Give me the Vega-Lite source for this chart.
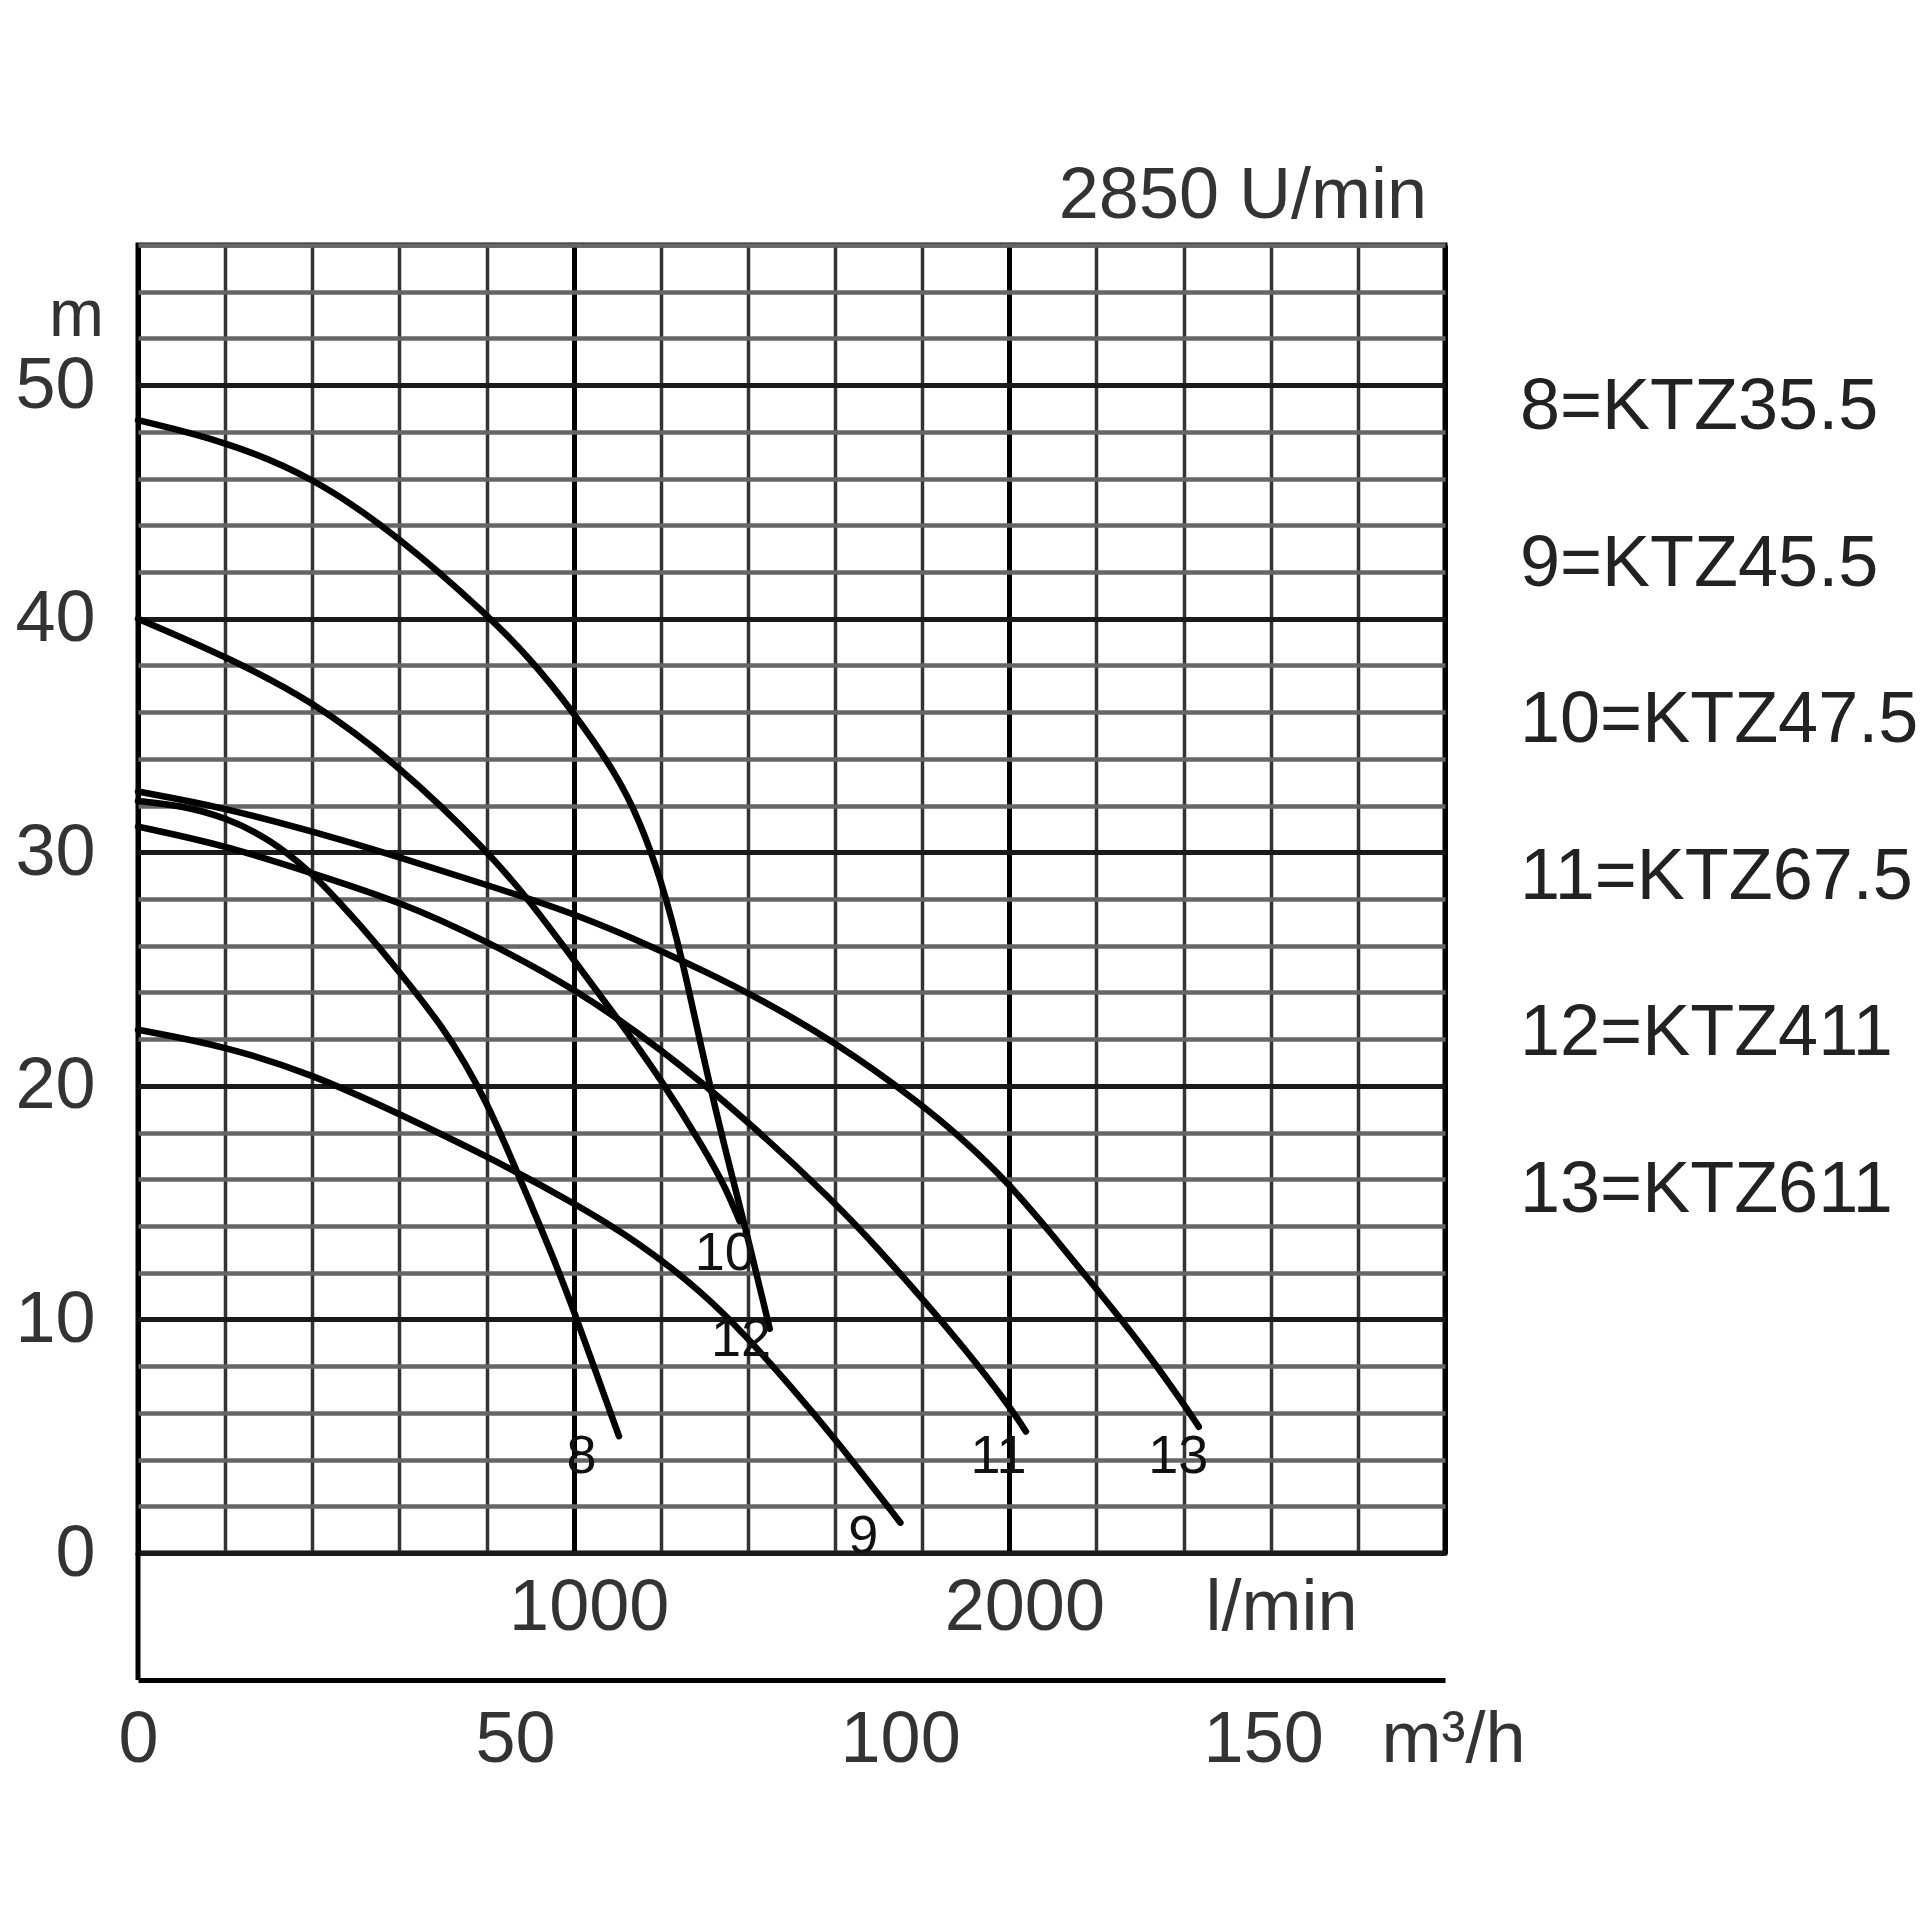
{
  "$schema": "https://vega.github.io/schema/vega-lite/v6.json",
  "width": 1307,
  "height": 1308,
  "autosize": "none",
  "padding": {"left": 138, "top": 245, "right": 475, "bottom": 367},
  "background": "white",
  "title": {
    "text": "2850 U/min",
    "anchor": "end",
    "frame": "group",
    "fontSize": 72,
    "fontWeight": "normal",
    "font": "Liberation Sans",
    "color": "#333333",
    "baseline": "alphabetic",
    "offset": -44,
    "dx": -18,
    "dy": 37
  },
  "config": {
    "font": "Liberation Sans",
    "view": {"stroke": "black", "strokeWidth": 5}
  },
  "datasets": {
    "curves": [
      {"model": "8=KTZ35.5", "Q": 0, "H": 32.2},
      {"model": "8=KTZ35.5", "Q": 100, "H": 32.0},
      {"model": "8=KTZ35.5", "Q": 200, "H": 31.5},
      {"model": "8=KTZ35.5", "Q": 300, "H": 30.6},
      {"model": "8=KTZ35.5", "Q": 400, "H": 29.1},
      {"model": "8=KTZ35.5", "Q": 450, "H": 28.1},
      {"model": "8=KTZ35.5", "Q": 500, "H": 27.1},
      {"model": "8=KTZ35.5", "Q": 600, "H": 24.9},
      {"model": "8=KTZ35.5", "Q": 700, "H": 22.5},
      {"model": "8=KTZ35.5", "Q": 750, "H": 21.0},
      {"model": "8=KTZ35.5", "Q": 800, "H": 19.3},
      {"model": "8=KTZ35.5", "Q": 850, "H": 17.2},
      {"model": "8=KTZ35.5", "Q": 900, "H": 15.0},
      {"model": "8=KTZ35.5", "Q": 950, "H": 12.8},
      {"model": "8=KTZ35.5", "Q": 1000, "H": 10.4},
      {"model": "8=KTZ35.5", "Q": 1050, "H": 7.8},
      {"model": "8=KTZ35.5", "Q": 1104, "H": 5.0},
      {"model": "9=KTZ45.5", "Q": 0, "H": 22.4},
      {"model": "9=KTZ45.5", "Q": 200, "H": 21.7},
      {"model": "9=KTZ45.5", "Q": 400, "H": 20.5},
      {"model": "9=KTZ45.5", "Q": 600, "H": 18.8},
      {"model": "9=KTZ45.5", "Q": 800, "H": 17.0},
      {"model": "9=KTZ45.5", "Q": 1000, "H": 15.0},
      {"model": "9=KTZ45.5", "Q": 1150, "H": 13.3},
      {"model": "9=KTZ45.5", "Q": 1300, "H": 11.1},
      {"model": "9=KTZ45.5", "Q": 1400, "H": 9.2},
      {"model": "9=KTZ45.5", "Q": 1500, "H": 7.1},
      {"model": "9=KTZ45.5", "Q": 1600, "H": 4.9},
      {"model": "9=KTZ45.5", "Q": 1750, "H": 1.3},
      {"model": "10=KTZ47.5", "Q": 0, "H": 40.0},
      {"model": "10=KTZ47.5", "Q": 200, "H": 38.4},
      {"model": "10=KTZ47.5", "Q": 400, "H": 36.5},
      {"model": "10=KTZ47.5", "Q": 600, "H": 33.7},
      {"model": "10=KTZ47.5", "Q": 800, "H": 30.1},
      {"model": "10=KTZ47.5", "Q": 900, "H": 27.9},
      {"model": "10=KTZ47.5", "Q": 1000, "H": 25.4},
      {"model": "10=KTZ47.5", "Q": 1100, "H": 22.9},
      {"model": "10=KTZ47.5", "Q": 1200, "H": 20.3},
      {"model": "10=KTZ47.5", "Q": 1300, "H": 17.3},
      {"model": "10=KTZ47.5", "Q": 1350, "H": 15.6},
      {"model": "10=KTZ47.5", "Q": 1381, "H": 14.2},
      {"model": "11=KTZ67.5", "Q": 0, "H": 31.1},
      {"model": "11=KTZ67.5", "Q": 200, "H": 30.3},
      {"model": "11=KTZ67.5", "Q": 400, "H": 29.1},
      {"model": "11=KTZ67.5", "Q": 600, "H": 27.9},
      {"model": "11=KTZ67.5", "Q": 800, "H": 26.2},
      {"model": "11=KTZ67.5", "Q": 1000, "H": 24.2},
      {"model": "11=KTZ67.5", "Q": 1200, "H": 21.6},
      {"model": "11=KTZ67.5", "Q": 1400, "H": 18.5},
      {"model": "11=KTZ67.5", "Q": 1600, "H": 15.0},
      {"model": "11=KTZ67.5", "Q": 1700, "H": 13.0},
      {"model": "11=KTZ67.5", "Q": 1800, "H": 10.9},
      {"model": "11=KTZ67.5", "Q": 1900, "H": 8.7},
      {"model": "11=KTZ67.5", "Q": 2000, "H": 6.3},
      {"model": "11=KTZ67.5", "Q": 2038, "H": 5.2},
      {"model": "12=KTZ411", "Q": 0, "H": 48.5},
      {"model": "12=KTZ411", "Q": 200, "H": 47.6},
      {"model": "12=KTZ411", "Q": 400, "H": 46.1},
      {"model": "12=KTZ411", "Q": 600, "H": 43.5},
      {"model": "12=KTZ411", "Q": 800, "H": 40.2},
      {"model": "12=KTZ411", "Q": 900, "H": 38.3},
      {"model": "12=KTZ411", "Q": 1000, "H": 36.0},
      {"model": "12=KTZ411", "Q": 1100, "H": 33.3},
      {"model": "12=KTZ411", "Q": 1150, "H": 31.4},
      {"model": "12=KTZ411", "Q": 1200, "H": 28.9},
      {"model": "12=KTZ411", "Q": 1250, "H": 25.4},
      {"model": "12=KTZ411", "Q": 1300, "H": 21.0},
      {"model": "12=KTZ411", "Q": 1350, "H": 17.1},
      {"model": "12=KTZ411", "Q": 1400, "H": 13.5},
      {"model": "12=KTZ411", "Q": 1450, "H": 9.6},
      {"model": "13=KTZ611", "Q": 0, "H": 32.6},
      {"model": "13=KTZ611", "Q": 200, "H": 31.9},
      {"model": "13=KTZ611", "Q": 400, "H": 30.9},
      {"model": "13=KTZ611", "Q": 600, "H": 29.8},
      {"model": "13=KTZ611", "Q": 800, "H": 28.6},
      {"model": "13=KTZ611", "Q": 1000, "H": 27.4},
      {"model": "13=KTZ611", "Q": 1200, "H": 25.8},
      {"model": "13=KTZ611", "Q": 1300, "H": 24.9},
      {"model": "13=KTZ611", "Q": 1400, "H": 24.0},
      {"model": "13=KTZ611", "Q": 1600, "H": 21.9},
      {"model": "13=KTZ611", "Q": 1800, "H": 19.2},
      {"model": "13=KTZ611", "Q": 1900, "H": 17.6},
      {"model": "13=KTZ611", "Q": 2000, "H": 15.8},
      {"model": "13=KTZ611", "Q": 2100, "H": 13.6},
      {"model": "13=KTZ611", "Q": 2200, "H": 11.3},
      {"model": "13=KTZ611", "Q": 2300, "H": 9.0},
      {"model": "13=KTZ611", "Q": 2400, "H": 6.4},
      {"model": "13=KTZ611", "Q": 2435, "H": 5.4}
    ],
    "labels": [
      {"nr": "8", "Q": 1018, "H": 4.1},
      {"nr": "9", "Q": 1665, "H": 0.7},
      {"nr": "10", "Q": 1347, "H": 12.8},
      {"nr": "11", "Q": 1975, "H": 4.1},
      {"nr": "12", "Q": 1384, "H": 9.1},
      {"nr": "13", "Q": 2388, "H": 4.1}
    ]
  },
  "layer": [
    {
      "data": {"name": "curves"},
      "mark": {"type": "line", "interpolate": "basis", "strokeWidth": 6.5, "strokeCap": "round"},
      "encoding": {
        "x": {
          "field": "Q",
          "type": "quantitative",
          "scale": {"domain": [0, 3000], "nice": false, "zero": false},
          "axis": {
            "orient": "bottom",
            "values": [0, 200, 400, 600, 800, 1000, 1200, 1400, 1600, 1800, 2000, 2200, 2400, 2600, 2800, 3000],
            "format": "d",
            "grid": true,
            "gridColor": {"condition": {"test": "datum.value % 1000 === 0", "value": "#000000"}, "value": "#333333"},
            "gridWidth": {"condition": {"test": "datum.value % 1000 === 0", "value": 5}, "value": 3.5},
            "ticks": false,
            "domain": false,
            "labelExpr": "datum.value === 1000 || datum.value === 2000 ? datum.label : ''",
            "labelFontSize": 72,
            "labelColor": "#333333",
            "labelPadding": 54,
            "labelBaseline": "middle",
            "labelOffset": 15,
            "labelFlush": false,
            "labelOverlap": false,
            "title": "l/min",
            "titleX": 1143,
            "titleY": 54,
            "titleAngle": 0,
            "titleAlign": "center",
            "titleBaseline": "middle",
            "titleFontSize": 72,
            "titleFontWeight": "normal",
            "titleColor": "#333333"
          }
        },
        "y": {
          "field": "H",
          "type": "quantitative",
          "scale": {"domain": [0, 56], "nice": false},
          "axis": {
            "values": [0, 2, 4, 6, 8, 10, 12, 14, 16, 18, 20, 22, 24, 26, 28, 30, 32, 34, 36, 38, 40, 42, 44, 46, 48, 50, 52, 54, 56],
            "grid": true,
            "gridColor": {"condition": {"test": "datum.value % 10 === 0", "value": "#1a1a1a"}, "value": "#666666"},
            "gridWidth": {"condition": {"test": "datum.value % 10 === 0", "value": 5}, "value": 4.5},
            "ticks": false,
            "domain": false,
            "labelExpr": "datum.value % 10 === 0 ? datum.label : ''",
            "labelFontSize": 72,
            "labelColor": "#333333",
            "labelPadding": 43,
            "labelOverlap": false,
            "labelFlush": false,
            "title": "m",
            "titleX": -62,
            "titleY": 70,
            "titleAngle": 0,
            "titleAlign": "center",
            "titleBaseline": "middle",
            "titleFontSize": 66,
            "titleFontWeight": "normal",
            "titleColor": "#333333"
          }
        },
        "stroke": {
          "field": "model",
          "type": "nominal",
          "scale": {
            "domain": ["8=KTZ35.5", "9=KTZ45.5", "10=KTZ47.5", "11=KTZ67.5", "12=KTZ411", "13=KTZ611"],
            "range": ["black", "black", "black", "black", "black", "black"]
          },
          "legend": {
            "orient": "none",
            "legendX": 1310,
            "legendY": 126,
            "title": null,
            "padding": 0,
            "symbolSize": 0,
            "symbolOpacity": 0,
            "symbolStrokeWidth": 0,
            "labelOffset": 0,
            "labelFontSize": 72,
            "labelColor": "#222222",
            "labelLimit": 600,
            "rowPadding": 84.6
          }
        }
      }
    },
    {
      "data": {"name": "labels"},
      "mark": {"type": "text", "fontSize": 54, "color": "#111111", "align": "center", "baseline": "middle"},
      "encoding": {
        "x": {
          "field": "Q",
          "type": "quantitative",
          "axis": {
            "orient": "bottom",
            "offset": 127,
            "values": [0, 833.333, 1666.667, 2500],
            "labelExpr": "format(datum.value * 0.06, '.0f')",
            "grid": false,
            "ticks": false,
            "domain": true,
            "domainColor": "black",
            "domainWidth": 5,
            "labelFontSize": 72,
            "labelColor": "#333333",
            "labelPadding": 59,
            "labelBaseline": "middle",
            "labelOffset": {"condition": [{"test": "datum.value === 0", "value": 0}, {"test": "datum.value < 1000", "value": 14}], "value": 36},
            "labelFlush": false,
            "labelOverlap": false,
            "title": "m³/h",
            "titleX": 1243,
            "titleY": 59,
            "titleAngle": 0,
            "titleAlign": "left",
            "titleBaseline": "middle",
            "titleFontSize": 72,
            "titleFontWeight": "normal",
            "titleColor": "#333333"
          }
        },
        "y": {"field": "H", "type": "quantitative", "axis": null},
        "text": {"field": "nr"}
      }
    },
    {
      "data": {"values": [{}]},
      "mark": {"type": "rule", "strokeWidth": 5, "color": "black"},
      "encoding": {
        "x": {"datum": 0, "type": "quantitative", "axis": null},
        "y": {"datum": 0, "type": "quantitative", "axis": null},
        "y2": {"datum": -5.44}
      }
    }
  ],
  "resolve": {"axis": {"x": "independent", "y": "independent"}}
}
